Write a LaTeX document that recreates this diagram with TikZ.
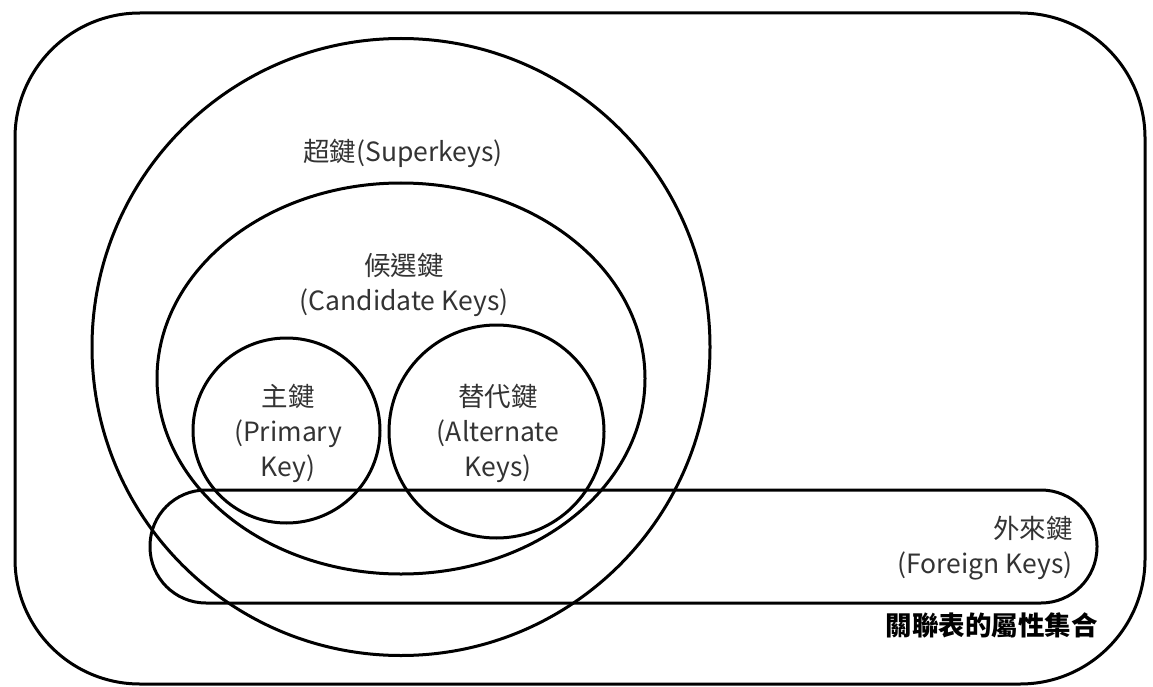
\documentclass[tikz,border=0pt]{standalone}
\usepackage{fontspec}
\setmainfont{Noto Sans CJK TC}
\usetikzlibrary{shapes.geometric}
\definecolor{txt}{HTML}{333333}
\tikzset{
  shapeline/.style={draw=black, line width=3pt, inner sep=0pt, outer sep=0pt},
  oval/.style={shapeline, ellipse},
  rbox/.style={shapeline, rectangle},
  lbl/.style={text=txt, font=\fontsize{26.5}{35}\selectfont, align=center, inner sep=0pt},
}
\begin{document}
\begin{tikzpicture}[x=1pt, y=-1pt]
\useasboundingbox (0,0) rectangle (1153,687);
% outer relation attribute set
\node[rbox, rounded corners=125pt, minimum width=1130pt, minimum height=671pt] (outer) at (580,348.5) {};
% superkeys
\node[oval, minimum width=618pt, minimum height=617pt] (super) at (401,347) {};
% candidate keys
\node[oval, minimum width=488pt, minimum height=391pt] (cand) at (401,378.5) {};
% primary key
\node[oval, minimum width=187pt, minimum height=185pt] (prim) at (286.5,430.5) {};
% alternate keys
\node[oval, minimum width=215pt, minimum height=213pt] (alt) at (496.5,431.5) {};
% foreign keys
\node[rbox, rounded corners=56pt, minimum width=947pt, minimum height=113pt] (foreign) at (623.5,546.5) {};
% labels
\node[lbl] (superlbl) at (403,153) {超鍵(Superkeys)};
\node[lbl] (candlbl) at (404,284.5) {候選鍵\\(Candidate Keys)};
\node[lbl] (primlbl) at (288,433) {主鍵\\(Primary\\Key)};
\node[lbl] (altlbl) at (498,433) {替代鍵\\(Alternate\\Keys)};
\node[lbl, align=right, anchor=east] (forlbl) at (1073,548) {外來鍵\\(Foreign Keys)};
\node[lbl, text=black, font=\fontsize{26.5}{30}\selectfont\bfseries, anchor=east] (setlbl) at (1098,625) {關聯表的屬性集合};
\end{tikzpicture}
\end{document}
